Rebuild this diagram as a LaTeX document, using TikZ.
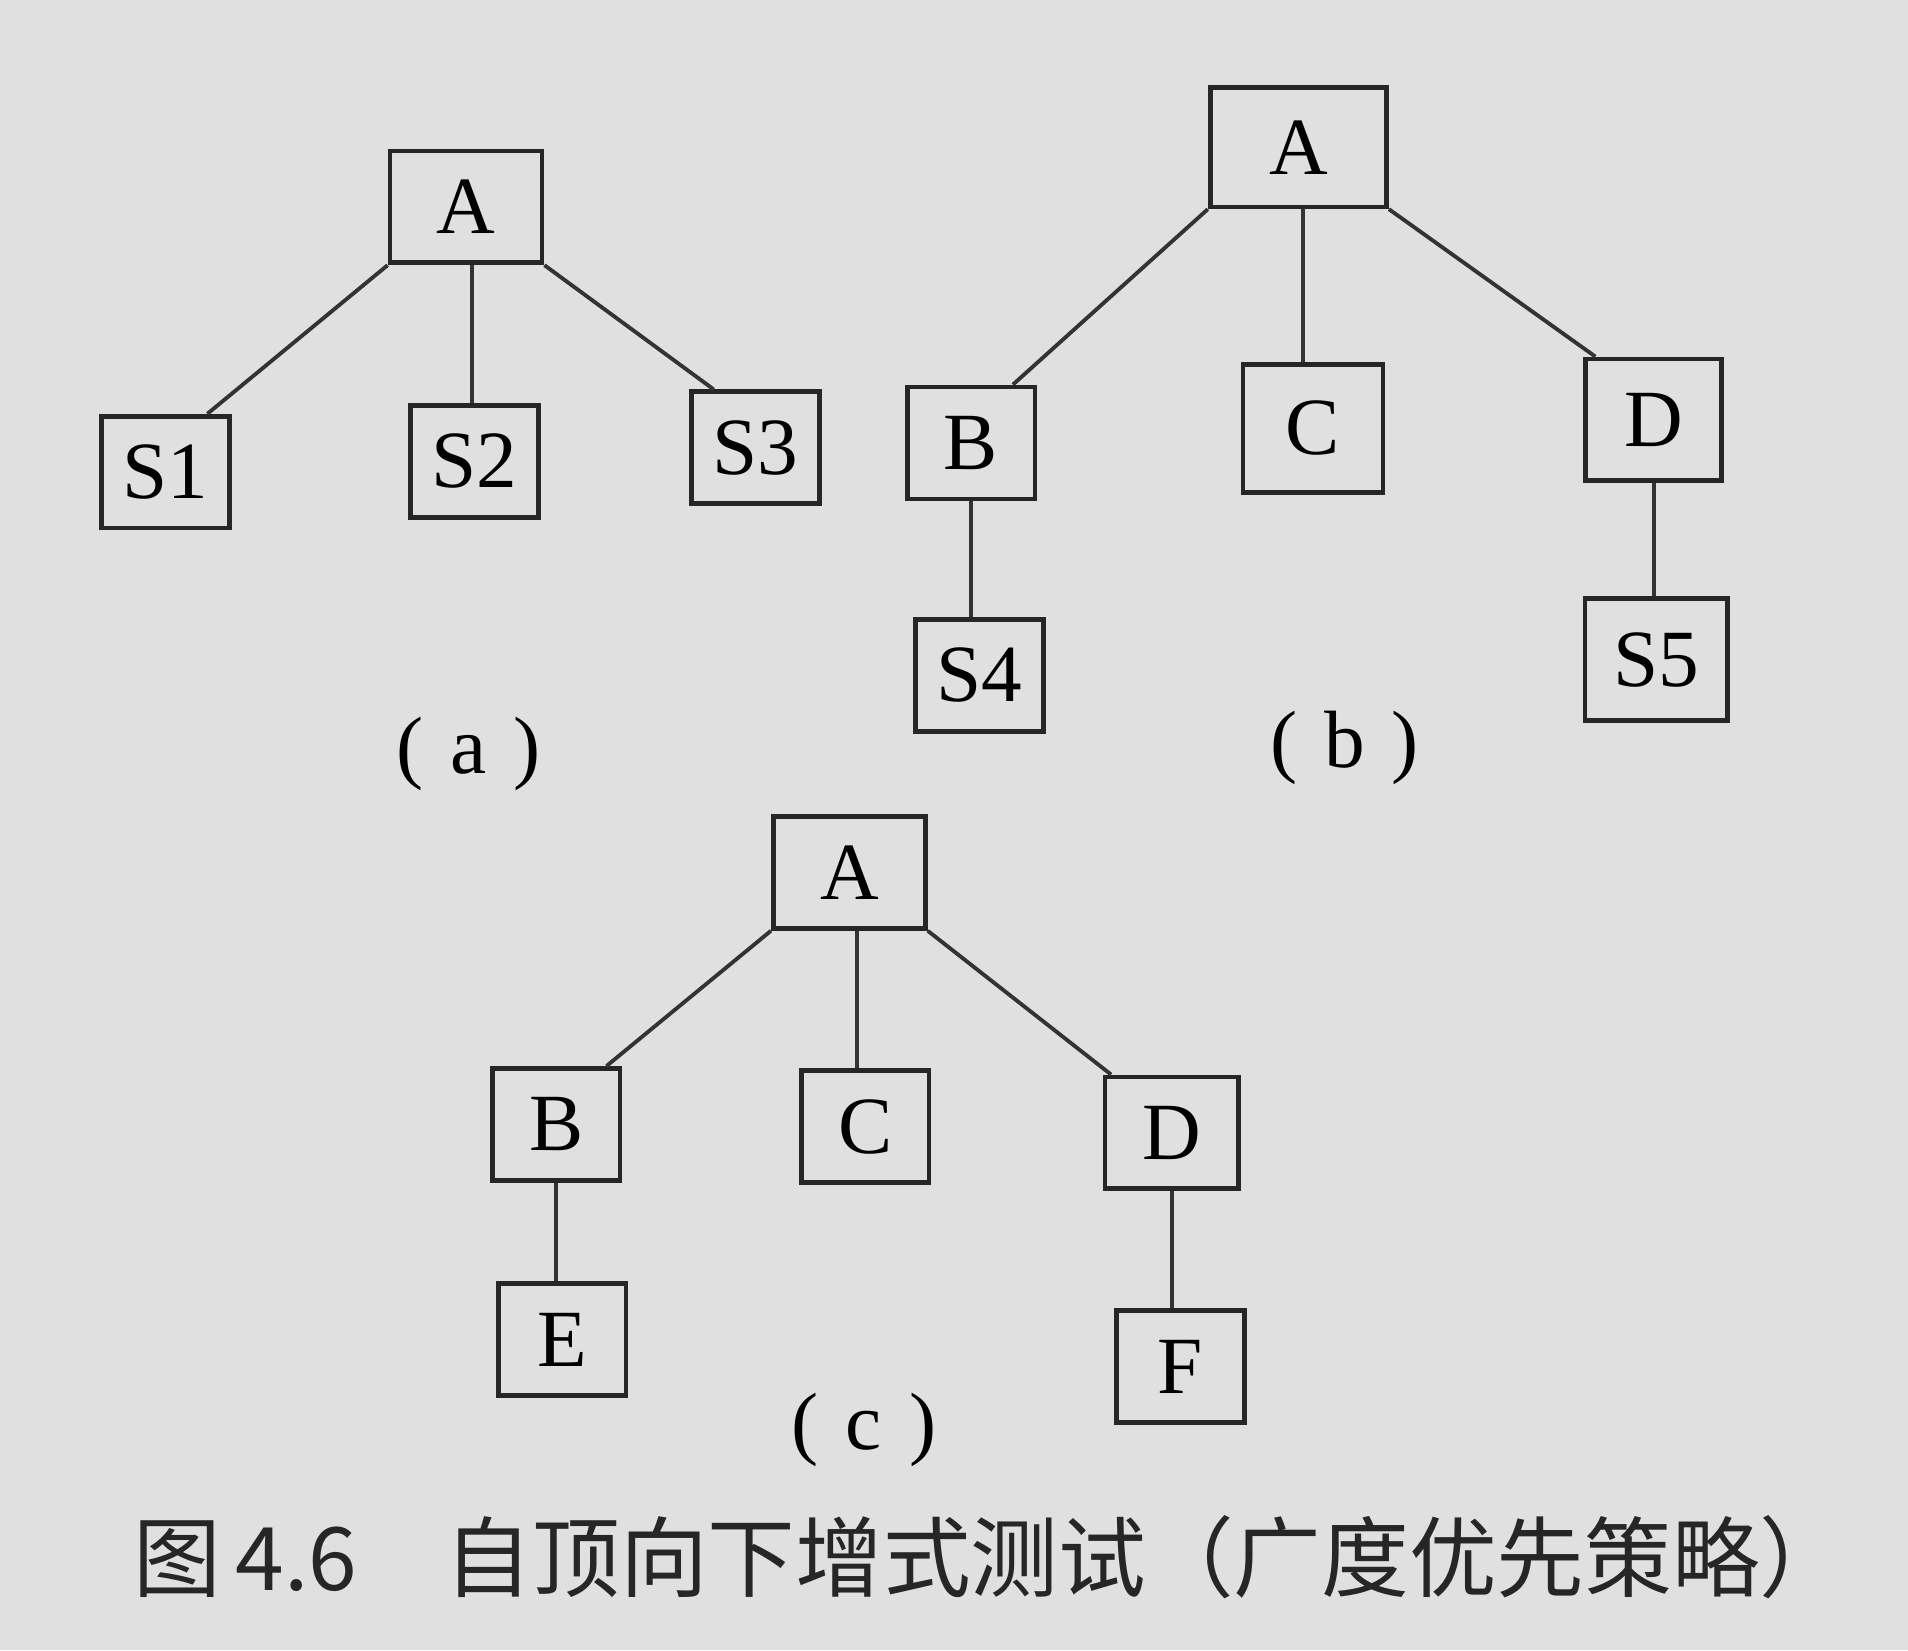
\documentclass[tikz,border=0pt]{standalone}
\usepackage{fontspec}
\setmainfont{Liberation Serif}
\newfontfamily\cjk{Noto Sans CJK SC}
\usetikzlibrary{positioning}

\tikzset{
  blk/.style={draw=black!85, line width=1.1pt, minimum width=10.5mm, minimum height=9.2mm, inner sep=0pt, font=\fontsize{19}{22}\selectfont},
  root/.style={blk, minimum width=12.5mm},
  edge/.style={draw=black!80, line width=0.9pt}
}

\begin{document}
\begin{tikzpicture}[x=0.1mm, y=-0.1mm]
	\fill[black!12] (0,0) rectangle (1568,1356);
	\useasboundingbox (0,0) rectangle (1568,1356);

	% (a)
	\node[root] (aA) at (383,170) {A};
	\node[blk] (aS1) at (136,388) {S1};
	\node[blk] (aS2) at (390,379) {S2};
	\node[blk] (aS3) at (621,368) {S3};
	\draw[edge] (aA.south west) -- ([xshift=-2mm]aS1.north east);
	\draw[edge] ([xshift=0.5mm]aA.south) -- ([xshift=0.5mm]aA.south |- aS2.north);
	\draw[edge] (aA.south east) -- ([xshift=2mm]aS3.north west);
	\node[font=\fontsize{19}{22}\selectfont] (labA) at (385,620) {(\,\,a\,\,)};

	% (b)
	\node[root, minimum width=14.5mm, minimum height=9.8mm] (bA) at (1067,121) {A};
	\node[blk] (bB) at (798,364) {B};
	\node[blk, minimum width=11.5mm, minimum height=10.5mm] (bC) at (1079,352) {C};
	\node[blk, minimum width=11.2mm, minimum height=10mm] (bD) at (1359,345) {D};
	\node[blk] (bS4) at (805,555) {S4};
	\node[blk, minimum width=11.7mm, minimum height=10mm] (bS5) at (1361,542) {S5};
	\draw[edge] (bA.south west) -- ([xshift=-2mm]bB.north east);
	\draw[edge] ([xshift=0.4mm]bA.south) -- ([xshift=0.4mm]bA.south |- bC.north);
	\draw[edge] (bA.south east) -- ([xshift=1mm]bD.north west);
	\draw[edge] (bB.south) -- (bB.south |- bS4.north);
	\draw[edge] (bD.south) -- (bD.south |- bS5.north);
	\node[font=\fontsize{19}{22}\selectfont] (labB) at (1105,615) {(\,\,b\,\,)};

	% (c)
	\node[root] (cA) at (698,717) {A};
	\node[blk] (cB) at (457,924) {B};
	\node[blk] (cC) at (711,926) {C};
	\node[blk, minimum width=11mm] (cD) at (963,931) {D};
	\node[blk] (cE) at (462,1101) {E};
	\node[blk] (cF) at (970,1123) {F};
	\draw[edge] (cA.south west) -- ([xshift=-1.3mm]cB.north east);
	\draw[edge] ([xshift=0.6mm]cA.south) -- ([xshift=0.6mm]cA.south |- cC.north);
	\draw[edge] (cA.south east) -- ([xshift=0.7mm]cD.north west);
	\draw[edge] (cB.south) -- (cB.south |- cE.north);
	\draw[edge] (cD.south) -- (cD.south |- cF.north);
	\node[font=\fontsize{19}{22}\selectfont] (labC) at (710,1175) {(\,\,c\,\,)};

	\node[font=\cjk\fontsize{20.5}{24}\selectfont, text=black!85] (cap) at (814,1280) {图\,4.6\quad 自顶向下增式测试（广度优先策略）};
\end{tikzpicture}
\end{document}
